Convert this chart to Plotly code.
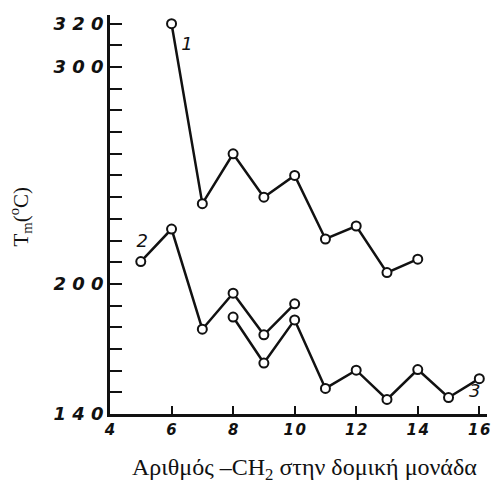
import plotly.graph_objects as go

# Data
x1 = [6, 7, 8, 9, 10, 11, 12, 13, 14]
y1 = [320, 237, 260, 240, 250, 220.7, 226.7, 205.2, 211.4]
x2 = [5, 6, 7, 8, 9, 10]
y2 = [210.3, 225.3, 179.1, 195.7, 176.5, 190.8]
x3 = [8, 9, 10, 11, 12, 13, 14, 15, 16]
y3 = [184.7, 163.5, 183.4, 151.8, 160.2, 146.7, 160.5, 147.6, 156.3]
label_text = ["1", "2", "3"]
label_x = [6.5, 5.05, 15.85]
label_y = [310, 219, 150]
x_ticks = [4, 6, 8, 10, 12, 14, 16]
x_ticktext = ["4", "6", "8", "1\u200a0", "1\u200a2", "1\u200a4", "1\u200a6"]
y_ticks = [140, 200, 300, 320]
y_ticktext = ["1 4 0", "2 0 0", "3 0 0", "3 2 0"]

fig = go.Figure()
for xs, ys in [(x1, y1), (x2, y2), (x3, y3)]:
    fig.add_trace(go.Scatter(
        x=xs, y=ys, mode="lines+markers",
        line=dict(color="#111", width=2.5),
        marker=dict(symbol="circle", size=9, color="white",
                    line=dict(color="#111", width=2)),
        showlegend=False, cliponaxis=False, hoverinfo="skip"))

fig.add_trace(go.Scatter(
    x=label_x, y=label_y, text=label_text, mode="text",
    textposition="middle center", cliponaxis=False, showlegend=False,
    hoverinfo="skip",
    textfont=dict(family="DejaVu Sans", size=18, color="#111", style="italic")))

fig.add_annotation(xref="paper", yref="paper", x=-0.237, y=0.494,
                   xanchor="center", yanchor="middle",
                   text="T<sub>m</sub>(<sup>o</sup>C)", textangle=-90, showarrow=False,
                   font=dict(family="Liberation Serif", size=21, color="#111"))
fig.add_annotation(xref="paper", yref="paper", x=0.515, y=-0.138,
                   xanchor="center", yanchor="middle",
                   text="Αριθμός –CH<sub>2</sub> στην δομική μονάδα", showarrow=False,
                   font=dict(family="Liberation Serif", size=24, color="#111"))

yfont = dict(family="DejaVu Sans", size=18, color="#111", style="italic", weight="bold")
xfont = dict(family="DejaVu Sans", size=15, color="#111", style="italic", weight="bold")
fig.update_layout(
    width=494, height=484,
    margin=dict(l=110, r=4, t=15, b=70),
    plot_bgcolor="white", paper_bgcolor="white",
    xaxis=dict(range=[4, 16.25], tickvals=x_ticks, ticktext=x_ticktext,
               ticks="inside", ticklen=8,
               tickwidth=2, tickcolor="#111", showline=True, linecolor="#111",
               linewidth=2.5, showgrid=False, zeroline=False, tickfont=xfont),
    yaxis=dict(range=[140, 324], tickvals=y_ticks, ticktext=y_ticktext,
               ticks="inside", ticklen=12,
               tickwidth=2, tickcolor="#111", showline=True, linecolor="#111",
               linewidth=2.5, showgrid=False, zeroline=False, tickfont=yfont,
               minor=dict(tick0=140, dtick=10, ticks="inside", ticklen=12,
                          tickwidth=2, tickcolor="#111", showgrid=False)),
)

fig.write_html("out.html", config={"displayModeBar": False},
               post_script="document.body.style.margin='0px';")
